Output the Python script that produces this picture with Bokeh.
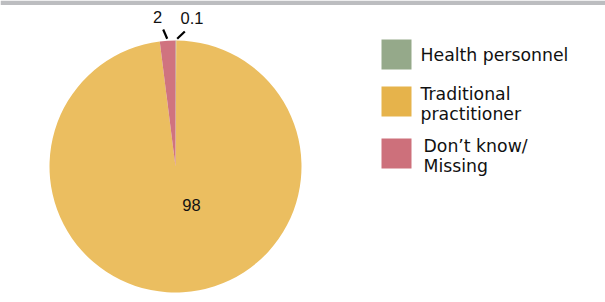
import numpy as np
from bokeh.plotting import figure
from bokeh.models import Range1d, ColumnDataSource
from bokeh.core.properties import value
from bokeh.embed import file_html
from bokeh.resources import INLINE

# ---- data ----
categories = ["Health personnel", "Traditional practitioner", "Don't know/Missing"]
legend_lines = [["Health personnel"], ["Traditional", "practitioner"], ["Don\u2019t know/", "Missing"]]
values = [0.1, 98, 2]
value_labels = ["0.1", "98", "2"]
pie_colors = ["#95a98a", "#ebbe60", "#d0737f"]
legend_colors = ["#95a98a", "#e6b34b", "#cd707b"]

FONT = "Liberation Sans"
LFONT = "DejaVu Sans"
W, H = 605, 302

def Y(py):
    # page pixel y (reference) -> data y
    return 302 - py

p = figure(width=W, height=H, output_backend="svg", toolbar_location=None,
           x_range=Range1d(0, W), y_range=Range1d(302 - H, 302),
           x_axis_type=None, y_axis_type=None, min_border=0)
p.outline_line_color = None
p.grid.visible = False
p.background_fill_color = "white"
p.border_fill_color = "white"

# top gray band
p.quad(left=0, right=W, bottom=Y(4.5), top=Y(0), fill_color="#bcbdc0", line_color=None)

# pie
cx, cy, r = 175, Y(166), 126
vals = np.array(values, dtype=float)
total = vals.sum()
cum = np.concatenate([[0], np.cumsum(vals)])
start = np.pi / 2 - 2 * np.pi * cum[:-1] / total
end = np.pi / 2 - 2 * np.pi * cum[1:] / total
src = ColumnDataSource(dict(start=start, end=end, color=pie_colors))
p.wedge(x=cx, y=cy, radius=r, start_angle="start", end_angle="end",
        direction="clock", fill_color="color", line_color=None, source=src)

# labels
p.text(x=[191], y=[Y(204.5)], text=[value_labels[1]], text_font=value(FONT),
       text_font_size="16.5px", text_align="center", text_baseline="middle", text_color="#111111")
p.text(x=[157, 191.5], y=[Y(16.5), Y(17)], text=[value_labels[2], value_labels[0]],
       text_font=value(FONT), text_font_size="16.5px", text_align="center",
       text_baseline="middle", text_color="#111111")
p.segment(x0=[162.7, 184.3], y0=[Y(29), Y(31)], x1=[166.7, 176.7], y1=[Y(38.3), Y(38.3)],
          line_color="black", line_width=2.2)

# legend
sq_tops = [39, 86, 138]
for i, (col, lines) in enumerate(zip(legend_colors, legend_lines)):
    t = sq_tops[i]
    p.quad(left=381, right=411, top=Y(t), bottom=Y(t + 30), fill_color=col, line_color=None)
    n = len(lines)
    centers = [t + 15] if n == 1 else [t + 7, t + 27]
    xs = 420 if i < 2 else 423
    p.text(x=[xs] * n, y=[Y(c) for c in centers], text=lines, text_font=value(LFONT),
           text_font_size="17.3px", text_align="left", text_baseline="middle", text_color="#111111")

open("out.html", "w").write(file_html(p, INLINE))
